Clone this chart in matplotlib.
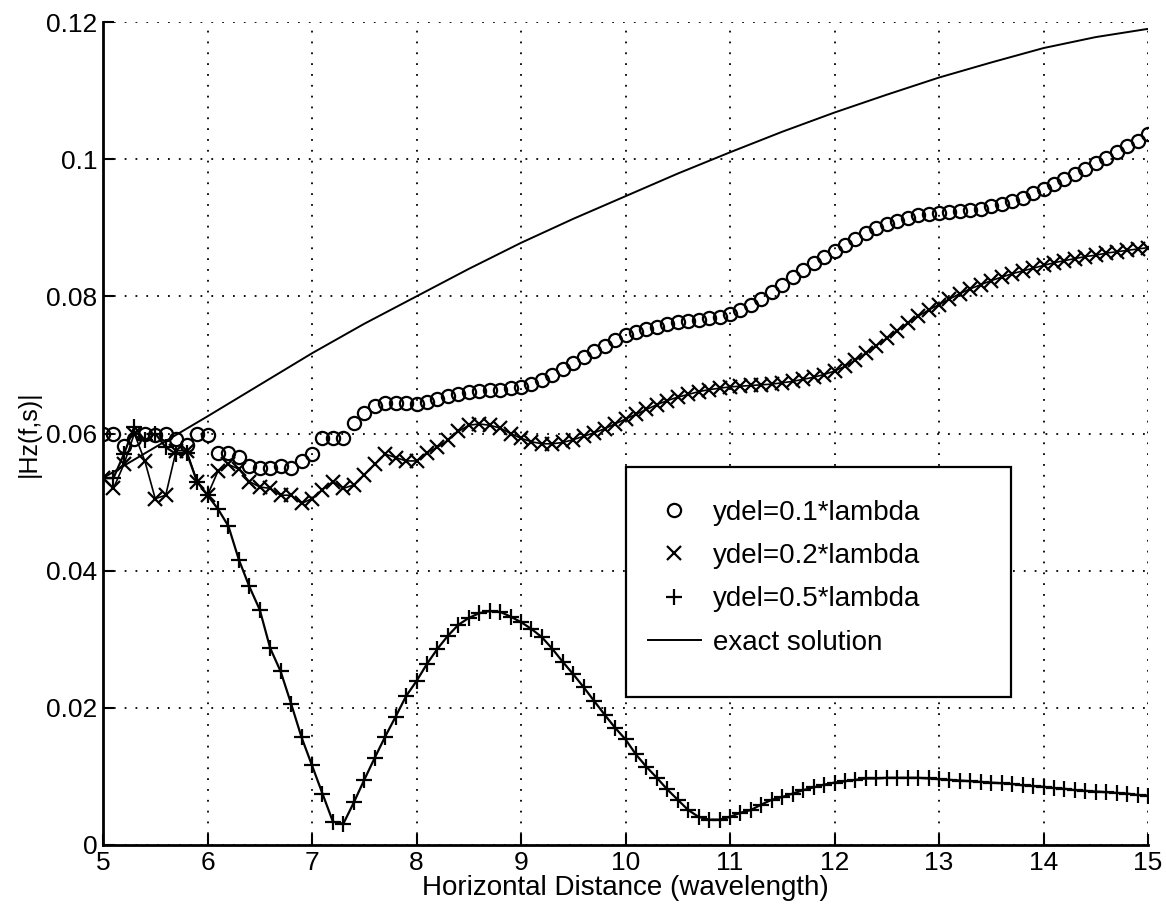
import numpy as np
import matplotlib.pyplot as plt
from matplotlib.lines import Line2D
from matplotlib.patches import Rectangle

plt.rcParams['font.family'] = ['Liberation Sans', 'DejaVu Sans']

# horizontal distance in wavelengths, one sample every 0.1
dist = np.round(np.arange(50, 151) / 10, 1)

hz_01 = [0.0600, 0.0600, 0.0582, 0.0592, 0.0600, 0.0598, 0.0600, 0.0592, 0.0583, 0.0600,
         0.0598, 0.0572, 0.0572, 0.0566, 0.0552, 0.0550, 0.0550, 0.0552, 0.0550, 0.0560,
         0.0570, 0.0594, 0.0594, 0.0594, 0.0615, 0.0630, 0.0640, 0.0645, 0.0645, 0.0645,
         0.0643, 0.0646, 0.0650, 0.0654, 0.0657, 0.0660, 0.0662, 0.0663, 0.0664, 0.0666,
         0.0668, 0.0672, 0.0678, 0.0685, 0.0694, 0.0703, 0.0712, 0.0720, 0.0728, 0.0736,
         0.0743, 0.0748, 0.0752, 0.0756, 0.0759, 0.0762, 0.0764, 0.0766, 0.0768, 0.0770,
         0.0774, 0.0780, 0.0787, 0.0796, 0.0806, 0.0817, 0.0828, 0.0839, 0.0848, 0.0857,
         0.0866, 0.0875, 0.0884, 0.0892, 0.0899, 0.0905, 0.0910, 0.0914, 0.0918, 0.0920,
         0.0922, 0.0923, 0.0924, 0.0926, 0.0928, 0.0931, 0.0935, 0.0939, 0.0944, 0.0950,
         0.0957, 0.0964, 0.0971, 0.0978, 0.0986, 0.0994, 0.1002, 0.1010, 0.1019, 0.1027,
         0.1036]

hz_02 = [0.0535, 0.0520, 0.0555, 0.0600, 0.0560, 0.0505, 0.0510, 0.0575, 0.0575, 0.0530,
         0.0510, 0.0545, 0.0555, 0.0548, 0.0530, 0.0522, 0.0520, 0.0510, 0.0510, 0.0498,
         0.0505, 0.0518, 0.0530, 0.0520, 0.0525, 0.0540, 0.0555, 0.0570, 0.0565, 0.0560,
         0.0560, 0.0572, 0.0580, 0.0590, 0.0603, 0.0612, 0.0614, 0.0612, 0.0608, 0.0600,
         0.0593, 0.0588, 0.0585, 0.0585, 0.0587, 0.0591, 0.0596, 0.0601, 0.0607, 0.0614,
         0.0621, 0.0628, 0.0635, 0.0642, 0.0648, 0.0653, 0.0657, 0.0661, 0.0664, 0.0666,
         0.0668, 0.0669, 0.0670, 0.0671, 0.0672, 0.0674, 0.0676, 0.0679, 0.0682, 0.0686,
         0.0691, 0.0698, 0.0707, 0.0717, 0.0728, 0.0739, 0.0750, 0.0761, 0.0771, 0.0780,
         0.0788, 0.0796, 0.0804, 0.0811, 0.0817, 0.0823, 0.0828, 0.0833, 0.0837, 0.0841,
         0.0845, 0.0849, 0.0852, 0.0855, 0.0858, 0.0860, 0.0863, 0.0865, 0.0867, 0.0869,
         0.0871]

hz_05 = [0.0535, 0.0535, 0.0570, 0.0610, 0.0590, 0.0600, 0.0580, 0.0570, 0.0572, 0.0530,
         0.0510, 0.0490, 0.0465, 0.0416, 0.0377, 0.0343, 0.0287, 0.0253, 0.0206, 0.0157,
         0.0116, 0.0075, 0.0034, 0.0031, 0.0062, 0.0095, 0.0127, 0.0158, 0.0187, 0.0217,
         0.0239, 0.0264, 0.0286, 0.0305, 0.0321, 0.0331, 0.0338, 0.0341, 0.0340, 0.0333,
         0.0325, 0.0315, 0.0303, 0.0286, 0.0267, 0.0249, 0.0230, 0.0210, 0.0190, 0.0171,
         0.0154, 0.0132, 0.0114, 0.0098, 0.0081, 0.0066, 0.0051, 0.0041, 0.0037, 0.0037,
         0.0041, 0.0047, 0.0051, 0.0059, 0.0066, 0.0070, 0.0075, 0.0080, 0.0084, 0.0088,
         0.0091, 0.0093, 0.0095, 0.0097, 0.0097, 0.0098, 0.0098, 0.0098, 0.0098, 0.0097,
         0.0096, 0.0095, 0.0094, 0.0093, 0.0092, 0.0091, 0.0090, 0.0089, 0.0087, 0.0086,
         0.0085, 0.0083, 0.0082, 0.0080, 0.0079, 0.0078, 0.0077, 0.0076, 0.0075, 0.0073,
         0.0072]

exact_x = [5, 5.5, 6, 6.5, 7, 7.5, 8, 8.5, 9, 9.5, 10,
           10.5, 11, 11.5, 12, 12.5, 13, 13.5, 14, 14.5, 15]
exact_y = [0.0535, 0.0580, 0.0625, 0.0671, 0.0717, 0.0760, 0.0800, 0.0840, 0.0878, 0.0913, 0.0946,
           0.0979, 0.1010, 0.1040, 0.1068, 0.1094, 0.1119, 0.1141, 0.1162, 0.1178, 0.1190]

yticks = [0, 0.02, 0.04, 0.06, 0.08, 0.1, 0.12]
ylabels = ['0', '0.02', '0.04', '0.06', '0.08', '0.1', '0.12']

fig = plt.figure(figsize=(11.66, 9.23), dpi=100)
ax = fig.add_axes([103 / 1166, 78 / 923, 1045 / 1166, 823 / 923])

ax.plot(exact_x, exact_y, '-', color='k', lw=1.4)
ax.plot(dist, hz_01, 'o', color='k', ms=9.5, mfc='none', mew=1.6)
ax.plot(dist, hz_02, '-', color='k', lw=1.2)
ax.plot(dist, hz_02, 'x', color='k', ms=10, mew=1.6)
ax.plot(dist, hz_05, '-', color='k', lw=1.6)
ax.plot(dist, hz_05, '+', color='k', ms=11, mew=1.6)

ax.set_xlim(5, 15)
ax.set_ylim(0, 0.12)
ax.set_xticks(range(5, 16))
ax.set_yticks(yticks)
ax.set_yticklabels(ylabels)
ax.tick_params(direction='in', length=8, width=1.5, labelsize=19, pad=4)
ax.grid(True, color='k', linestyle=(0, (1, 5)), linewidth=1.3)
for s in ['top', 'right']:
    ax.spines[s].set_visible(False)
for s in ['left', 'bottom']:
    ax.spines[s].set_linewidth(2)

ax.set_xlabel('Horizontal Distance (wavelength)', fontsize=20, labelpad=0)
ax.set_ylabel('|Hz(f,s)|', fontsize=18, labelpad=4)

handles = [
    Line2D([], [], ls='none', marker='o', color='k', ms=9.5, mfc='none', mew=1.6),
    Line2D([], [], ls='none', marker='x', color='k', ms=10, mew=1.6),
    Line2D([], [], ls='none', marker='+', color='k', ms=11, mew=1.6),
    Line2D([], [], ls='-', color='k', lw=1.4),
]
names = ['ydel=0.1*lambda', 'ydel=0.2*lambda', 'ydel=0.5*lambda', 'exact solution']
leg = ax.legend(handles, names, loc='upper left', bbox_to_anchor=(634 / 1166, 1 - 486 / 923),
                bbox_transform=fig.transFigure, frameon=False, fontsize=20, borderpad=0,
                handlelength=1.9, handletextpad=0.43, labelspacing=0.62)
frame = Rectangle(((626 - 103) / 1045, (845 - 697) / 823), 385 / 1045, 230 / 823,
                  transform=ax.transAxes, facecolor='white', edgecolor='k', lw=1.6, zorder=4)
ax.add_patch(frame)
leg.set_zorder(5)

fig.savefig('out.png', dpi=100)
